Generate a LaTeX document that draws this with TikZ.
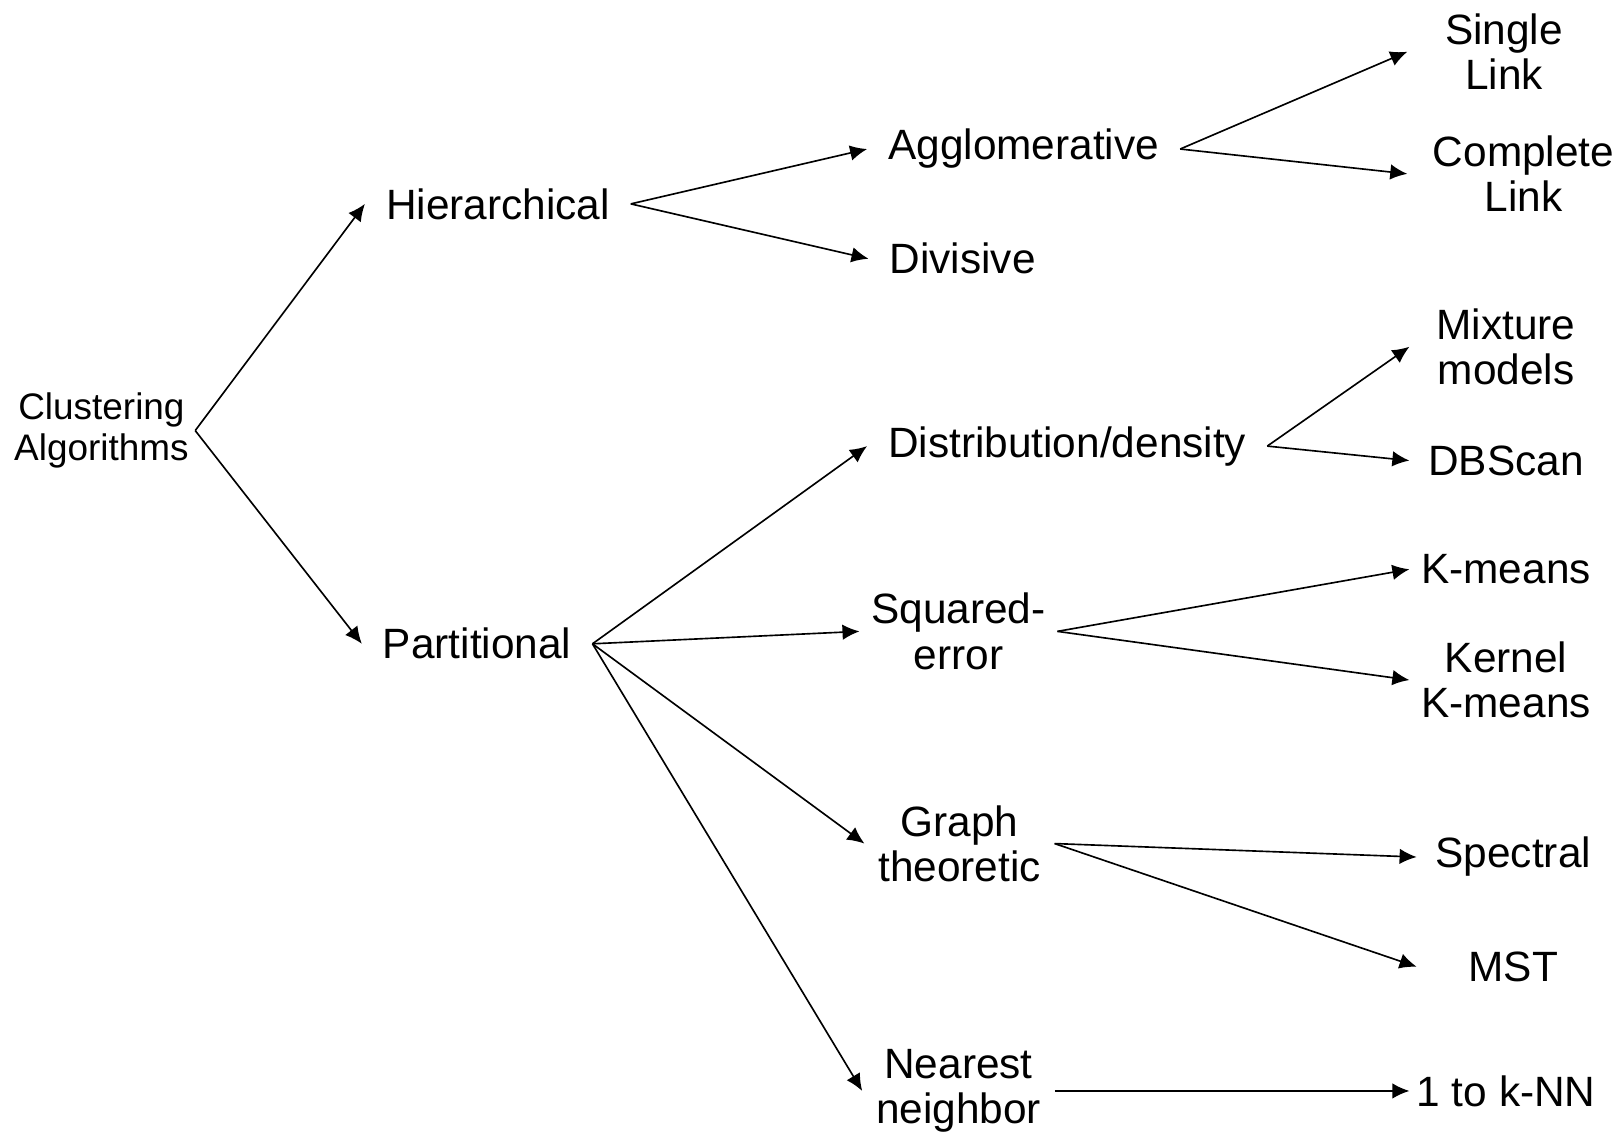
\documentclass[tikz,border=0pt]{standalone}
\usepackage{fontspec}
\setmainfont{Liberation Sans}
\usetikzlibrary{arrows.meta, positioning}

\begin{document}
\begin{tikzpicture}[
    every node/.style={align=center},
    rootbox/.style={
        inner xsep=0.12cm, inner ysep=2pt,
        font=\fontsize{20.3}{22.2}\selectfont
    },
    midbox/.style={
        inner xsep=0.4cm, inner ysep=2pt,
        font=\fontsize{23.3}{24.8}\selectfont
    },
    leafbox/.style={
        midbox, inner xsep=0pt,
        minimum width=3.72cm
    },
    arrowstyle/.style={
        -{Latex[length=3.3mm, width=3mm]},
        line width=0.9pt,
        color=black
    }
]

    % ------------------- FRAME -------------------
    \useasboundingbox (0,0) rectangle (31.36,21.98);

    % ------------------- ROOT AND FIRST LEVEL -------------------
    \node[rootbox] (nClust) at (1.96, 13.66) {Clustering\\Algorithms};
    \node[midbox] (nHier) at (9.62, 18.04) {Hierarchical};
    \node[midbox] (nPart) at (9.22, 9.54) {Partitional};

    \draw[arrowstyle] (nClust.east) -- (nHier.west);
    \draw[arrowstyle] (nClust.east) -- (nPart.west);

    % ------------------- HIERARCHICAL BRANCH -------------------
    \node[midbox] (nAgg) at (19.78, 19.10) {Agglomerative};
    \node[midbox] (nDiv) at (18.60, 16.98) {Divisive};

    \draw[arrowstyle] (nHier.east) -- (nAgg.west);
    \draw[arrowstyle] (nHier.east) -- (nDiv.west);

    \node[leafbox] (nSingle) at (29.06, 20.98) {Single\\Link};
    \node[leafbox, minimum width=4.48cm] (nComplete) at (29.44, 18.62) {Complete\\Link};

    \draw[arrowstyle] (nAgg.east) -- (nSingle.west);
    \draw[arrowstyle] (nAgg.east) -- (nComplete.west);

    % ------------------- PARTITIONAL BRANCH -------------------
    \node[midbox] (nDist) at (20.62, 13.36) {Distribution/density};
    \node[midbox, inner xsep=0.22cm] (nSquared) at (18.52, 9.78) {Squared-\\error};
    \node[midbox, inner xsep=0.26cm] (nGraph) at (18.54, 5.68) {Graph\\theoretic};
    \node[midbox, inner xsep=0.26cm] (nNearest) at (18.52, 0.90) {Nearest\\neighbor};

    \draw[arrowstyle] (nPart.east) -- (nDist.west);
    \draw[arrowstyle] (nPart.east) -- (nSquared.west);
    \draw[arrowstyle] (nPart.east) -- (nGraph.west);
    \draw[arrowstyle] (nPart.east) -- (nNearest.west);

    % --- leaves of the partitional methods ---
    \node[leafbox] (nMix) at (29.10, 15.28) {Mixture\\models};
    \node[leafbox] (nDBScan) at (29.10, 13.08) {DBScan};
    \draw[arrowstyle] (nDist.east) -- (nMix.west);
    \draw[arrowstyle] (nDist.east) -- (nDBScan.west);

    \node[leafbox] (nKmeans) at (29.10, 10.98) {K-means};
    \node[leafbox] (nKernel) at (29.10, 8.84) {Kernel\\K-means};
    \draw[arrowstyle] (nSquared.east) -- (nKmeans.west);
    \draw[arrowstyle] (nSquared.east) -- (nKernel.west);

    \node[leafbox] (nSpectral) at (29.24, 5.42) {Spectral};
    \node[leafbox] (nMST) at (29.24, 3.30) {MST};
    \draw[arrowstyle] (nGraph.east) -- (nSpectral.west);
    \draw[arrowstyle] (nGraph.east) -- (nMST.west);

    \node[leafbox] (nKNN) at (29.10, 0.90) {1 to k-NN};
    \draw[arrowstyle] (nNearest.east) -- (nKNN.west);
\end{tikzpicture}
\end{document}
